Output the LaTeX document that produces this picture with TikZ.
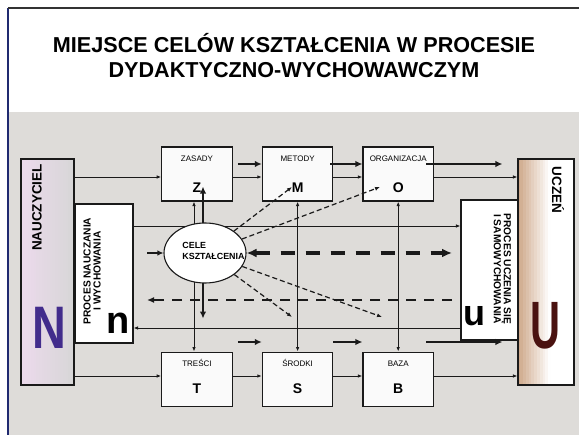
\documentclass[tikz,border=0pt]{standalone}
\usepackage{fontspec}
\setmainfont{Liberation Sans}
\usetikzlibrary{arrows.meta,positioning,calc,shapes.geometric}
\definecolor{bggray}{RGB}{222,220,217}
\definecolor{lavend}{RGB}{236,218,236}
\definecolor{nviolet}{RGB}{66,44,140}
\definecolor{umaroon}{RGB}{74,18,16}
\definecolor{ubrown}{RGB}{206,168,138}
\definecolor{frameblue}{RGB}{32,42,112}
\definecolor{ink}{RGB}{26,26,26}
\colorlet{ngray}{gray!32}
\pgfdeclarelayer{bg}
\pgfdeclarelayer{under}
\pgfsetlayers{bg,under,main}

\begin{document}
\begin{tikzpicture}[x=1pt,y=-1pt,node distance=29pt,
box/.style={draw=ink,line width=1.1pt,minimum width=70.5pt,minimum height=54pt,
inner sep=0pt,fill=white!96!gray},
bigbox/.style={draw=ink,line width=1.1pt,inner sep=0pt},
lbl/.style={font=\fontsize{8}{9}\selectfont,anchor=base,inner sep=0pt},
letr/.style={font=\fontsize{14}{16}\selectfont\bfseries,anchor=base,inner sep=0pt},
ttl/.style={font=\fontsize{21.6}{25}\selectfont\bfseries,anchor=base,inner sep=0pt},
side/.style={font=\fontsize{13.5}{15}\selectfont\bfseries,inner sep=0pt},
proc/.style={font=\fontsize{10.2}{10}\selectfont\bfseries,align=center,inner sep=0pt},
link/.style={draw=ink,line width=0.9pt,-{Latex[length=4.5pt,width=3.5pt]}},
twoway/.style={link,{Latex[length=4.5pt,width=3.5pt]}-{Latex[length=4.5pt,width=3.5pt]}},
fat/.style={draw=ink,line width=2.6pt,-{Latex[length=7pt,width=6.5pt]}},
bigdash/.style={draw=ink,line width=3.4pt,dash pattern=on 14pt off 11pt,
{Latex[length=10pt,width=9pt]}-{Latex[length=10pt,width=9pt]}},
middash/.style={draw=ink,line width=2pt,dash pattern=on 10pt off 8pt,-{Latex[length=7pt,width=6pt]}},
thindash/.style={draw=ink,line width=1.2pt,dash pattern=on 5pt off 3pt,-{Latex[length=5pt,width=4pt]}}]
\useasboundingbox (0,0) rectangle (579,435);
\begin{pgfonlayer}{bg}
\fill[white] (0,0) rectangle (579,435);
\fill[bggray] (8,112) rectangle (579,435);
\draw[frameblue,line width=2pt] (8,435) -- (8,8);
\draw[black!80,line width=2pt] (8,8) -- (579,8);
\end{pgfonlayer}
% title
\node[ttl] (ttl1) at (294,53) {MIEJSCE CELÓW KSZTAŁCENIA W PROCESIE};
\node[ttl] (ttl2) at (294,78) {DYDAKTYCZNO-WYCHOWAWCZYM};
% side blocks
\node[bigbox,minimum width=53pt,minimum height=226pt] (nau) at (47.5,272) {};
\node[bigbox,fill=white,minimum width=58pt,minimum height=139pt] (pn) at (104,273.5) {};
\node[bigbox,fill=white,minimum width=57pt,minimum height=140pt] (pu) at (489.5,270) {};
\node[bigbox,minimum width=56pt,minimum height=226pt] (ucz) at (546,272) {};
% small boxes
\node[box] (zas) at (197,174) {};
\node[box,right=of zas] (met) {};
\node[box,right=of met] (org) {};
\node[box,below=150pt of zas] (tre) {};
\node[box,right=of tre] (sro) {};
\node[box,right=of sro] (baz) {};
\node[draw=ink,line width=1.1pt,fill=white,ellipse,minimum width=82pt,minimum height=60pt,inner sep=0pt] (cel) at (205,253) {};
% helper rows and free ends
\coordinate (rowT) at (0,177);
\coordinate (rowTf) at (0,164);
\coordinate (rowB) at (0,376);
\coordinate (rowBf) at (0,342);
\coordinate (hup) at (0,226);
\coordinate (hlo) at (0,328);
\coordinate (dashR) at (452,253);
\coordinate (dashA) at (452,300);
\coordinate (dashB) at (147,300);
\coordinate (inL) at (147,253);
\coordinate (toM) at (292,187);
\coordinate (toO) at (380,187);
\coordinate (toS) at (292,317);
\coordinate (toB) at (382,317);
\begin{pgfonlayer}{under}
% colour bands of the two side blocks
\foreach \k in {0,...,19}{
\pgfmathtruncatemacro{\p}{100-5*\k}
\pgfmathtruncatemacro{\q}{max(0,100-9*\k)}
\fill[lavend!\p!ngray] ($(nau.north west)+(2.65*\k,0)$) rectangle ($(nau.south west)+(2.65*\k+2.75,0)$);
\fill[ubrown!\q!white] ($(ucz.north west)+(2.8*\k,0)$) rectangle ($(ucz.south west)+(2.8*\k+2.9,0)$);}
\draw[link] (pn.east |- hup) -- (pu.west |- hup);
\draw[twoway] ($(zas.south)+(-3,0)$) -- ($(tre.north)+(-3,0)$);
\end{pgfonlayer}
\draw[link] (nau.east |- rowT) -- (zas.west |- rowT);
\draw[link] (zas.east |- rowT) -- (met.west |- rowT);
\draw[link] (met.east |- rowT) -- (org.west |- rowT);
\draw[link] (org.east |- rowT) -- (ucz.west |- rowT);
\draw[link] (nau.east |- rowB) -- (tre.west |- rowB);
\draw[link] (tre.east |- rowB) -- (sro.west |- rowB);
\draw[link] (sro.east |- rowB) -- (baz.west |- rowB);
\draw[link] (baz.east |- rowB) -- (ucz.west |- rowB);
\draw[link] (pu.west |- hlo) -- (pn.east |- hlo);
\draw[twoway] (met.south) -- (sro.north);
\draw[twoway] (org.south) -- (baz.north);
\draw[fat] ($(zas.east |- rowTf)+(5,0)$) -- (met.west |- rowTf);
\draw[fat] ($(met.east |- rowTf)+(-3,0)$) -- (org.west |- rowTf);
\draw[fat] ($(org.east |- rowTf)+(-8,0)$) -- ($(ucz.west |- rowTf)+(-15,0)$);
\draw[fat] ($(tre.east |- rowBf)+(5,0)$) -- (sro.west |- rowBf);
\draw[fat] (sro.east |- rowBf) -- (baz.west |- rowBf);
\draw[fat] ($(baz.east |- rowBf)+(-8,0)$) -- ($(ucz.west |- rowBf)+(-15,0)$);
\draw[fat] ($(cel.north)+(-2,1)$) -- ($(zas.south)+(6,-15)$);
\draw[fat] ($(cel.south)+(-2,-1)$) -- ($(tre.north)+(6,-33)$);
\draw[fat,line width=2pt,-{Latex[length=6pt,width=5.5pt]}] (inL) -- (cel);
\draw[bigdash] (cel) -- (dashR);
\draw[middash] (dashA) -- (dashB);
\draw[thindash] (cel) -- (toM);
\draw[thindash] (cel) -- (toO);
\draw[thindash] (cel) -- (toS);
\draw[thindash] (cel) -- (toB);
% texts
\node[lbl] (zasl) at ($(zas.north)+(0,15)$) {ZASADY};
\node[lbl] (metl) at ($(met.north)+(0,15)$) {METODY};
\node[lbl] (orgl) at ($(org.north)+(0,15)$) {ORGANIZACJA};
\node[lbl] (trel) at ($(tre.north)+(0,15)$) {TREŚCI};
\node[lbl] (srol) at ($(sro.north)+(0,15)$) {ŚRODKI};
\node[lbl] (bazl) at ($(baz.north)+(0,15)$) {BAZA};
\node[letr] (zasz) at ($(zas.north)+(0,46)$) {Z};
\node[letr] (metz) at ($(met.north)+(0,46)$) {M};
\node[letr] (orgz) at ($(org.north)+(0,46)$) {O};
\node[letr] (trez) at ($(tre.north)+(0,42)$) {T};
\node[letr] (sroz) at ($(sro.north)+(0,42)$) {S};
\node[letr] (bazz) at ($(baz.north)+(0,42)$) {B};
\node[font=\fontsize{8.9}{11}\selectfont\bfseries,align=left,inner sep=0pt] (celt) at (213.5,251) {CELE\\KSZTAŁCENIA};
\node[side,rotate=90] (naut) at (37,207.5) {NAUCZYCIEL};
\node[side,rotate=-90] (uczt) at (558,190) {UCZEŃ};
\node[proc,rotate=90] (pnt) at (92,271) {PROCES NAUCZANIA\\I WYCHOWANIA};
\node[proc,rotate=-90] (put) at (502.5,269) {PROCES UCZENIA SIĘ\\I SAMOWYCHOWANIA};
\node[font=\fontsize{60}{60}\selectfont\bfseries,text=nviolet,xscale=0.78,inner sep=0pt] (bign) at (49,328) {N};
\node[font=\fontsize{67}{67}\selectfont\bfseries,text=umaroon,xscale=0.62,inner sep=0pt] (bigu) at (545.5,326) {U};
\node[font=\fontsize{38}{38}\selectfont\bfseries,inner sep=0pt] (smn) at (118,323) {n};
\node[font=\fontsize{36}{36}\selectfont\bfseries,inner sep=0pt] (smu) at (474.5,316.5) {u};
\end{tikzpicture}
\end{document}
